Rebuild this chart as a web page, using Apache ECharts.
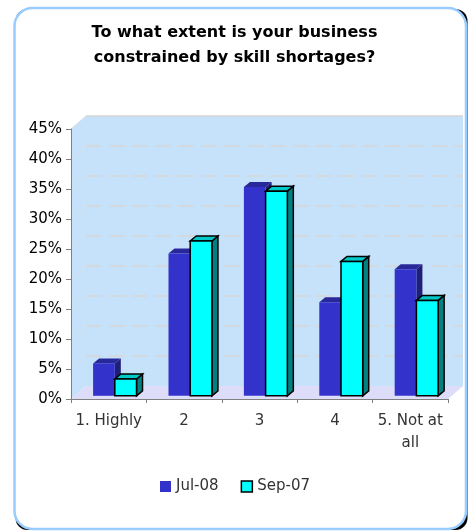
<!DOCTYPE html>
<html>
<head>
<meta charset="utf-8">
<script src="https://cdn.jsdelivr.net/npm/echarts@6/dist/echarts.min.js"></script>
<style>
  html, body { margin: 0; padding: 0; background: #ffffff; }
  #chart { width: 469px; height: 531px; }
</style>
</head>
<body>
<div id="chart"></div>
<script>
// Survey answers: share of businesses by how much skill shortages constrain them
const categories = ['1. Highly', '2', '3', '4', '5. Not at\nall'];
const jul08 = [5.4, 23.7, 34.8, 15.6, 21.1];
const sep07 = [2.8, 25.8, 34.1, 22.4, 15.9];
const seriesNames = ['Jul-08', 'Sep-07'];
const yMin = 0, yMax = 45, yStep = 5;

const FONT = 'DejaVu Sans';
// oblique depth of the chart box and of each column
const WALL_DX = 15, WALL_DY = 13;
const BAR_DX = 6, BAR_DY = 5, BAR_LIFT = 3.2;

const chart = echarts.init(document.getElementById('chart'));

function backdrop(params, api) {
  const cs = params.coordSys;
  const x0 = cs.x, x1 = cs.x + cs.width, y0 = cs.y, y1 = cs.y + cs.height;
  const wallColor = '#C6E2FB';
  const children = [
    // back wall
    { type: 'rect', shape: { x: x0 + WALL_DX, y: y0 - WALL_DY, width: cs.width, height: cs.height },
      style: { fill: wallColor } },
    // side wall
    { type: 'polygon', shape: { points: [[x0, y1], [x0, y0], [x0 + WALL_DX, y0 - WALL_DY], [x0 + WALL_DX, y1 - WALL_DY]] },
      style: { fill: wallColor } },
    // floor
    { type: 'polygon', shape: { points: [[x0, y1], [x1, y1], [x1 + WALL_DX, y1 - WALL_DY], [x0 + WALL_DX, y1 - WALL_DY]] },
      style: { fill: '#DDDDF9' } }
  ];
  for (let v = yMin + yStep; v <= yMax; v += yStep) {
    const y = api.coord([0, v])[1];
    children.push({ type: 'line',
      shape: { x1: x0 + WALL_DX, y1: y - WALL_DY, x2: x1 + WALL_DX, y2: y - WALL_DY },
      style: { stroke: '#D6D6D6', lineWidth: 1.3, lineDash: v === yMax ? null : [16, 7] } });
    children.push({ type: 'line',
      shape: { x1: x0, y1: y, x2: x0 + WALL_DX, y2: y - WALL_DY },
      style: { stroke: '#DADFE6', lineWidth: 1 } });
  }
  return { type: 'group', children };
}

function makeBar(front, top, side, outline, slot) {
  return function (params, api) {
    const i = api.value(0), v = api.value(1);
    const base = api.coord([i, 0]);
    const head = api.coord([i, v]);
    const bw = api.size([1, 0])[0];
    const w = 0.288 * bw;
    const L = base[0] - 0.207 * bw + slot * w;
    const by = base[1] - BAR_LIFT, ty = head[1] - BAR_LIFT;
    const stroke = outline ? { stroke: '#000000', lineWidth: 1.5, lineJoin: 'miter' } : {};
    return {
      type: 'group',
      children: [
        { type: 'polygon',
          shape: { points: [[L + w, ty], [L + w + BAR_DX, ty - BAR_DY], [L + w + BAR_DX, by - BAR_DY], [L + w, by]] },
          style: Object.assign({ fill: side }, stroke) },
        { type: 'polygon',
          shape: { points: [[L, ty], [L + BAR_DX, ty - BAR_DY], [L + w + BAR_DX, ty - BAR_DY], [L + w, ty]] },
          style: Object.assign({ fill: top }, stroke) },
        { type: 'rect', shape: { x: L, y: ty, width: w, height: by - ty },
          style: Object.assign({ fill: front }, stroke) }
      ]
    };
  };
}

chart.setOption({
  animation: false,
  backgroundColor: 'transparent',
  graphic: [
    { type: 'rect', z: -10, shape: { x: 15.5, y: 9, width: 452, height: 521, r: 12 },
      style: { fill: '#000000' } },
    { type: 'rect', z: -9, shape: { x: 14.5, y: 8, width: 451.5, height: 521, r: 18 },
      style: { fill: '#FFFFFF', stroke: '#99CCFF', lineWidth: 2.5 } }
  ],
  title: {
    text: 'To what extent is your business\nconstrained by skill shortages?',
    left: 'center',
    top: 20,
    padding: [0, 0, 0, 12],
    textStyle: { fontFamily: FONT, fontSize: 16, fontWeight: 'bold', color: '#000000', lineHeight: 25 }
  },
  legend: {
    data: [
      { name: seriesNames[0], itemStyle: { color: '#3333CC', borderWidth: 0 } },
      { name: seriesNames[1], itemStyle: { color: '#00FFFF', borderColor: '#000000', borderWidth: 1.5 } }
    ],
    left: 155,
    top: 474,
    icon: 'rect',
    itemWidth: 11,
    itemHeight: 11,
    itemGap: 22,
    textStyle: { fontFamily: FONT, fontSize: 15, color: '#333333' }
  },
  grid: { left: 71, right: 21, top: 129, bottom: 132, containLabel: false },
  xAxis: {
    type: 'category',
    data: categories,
    z: 10,
    axisLine: { lineStyle: { color: '#808080', width: 1 } },
    axisTick: { show: true, length: 4, lineStyle: { color: '#808080' } },
    axisLabel: { fontFamily: FONT, fontSize: 15, color: '#333333', margin: 11, lineHeight: 22, interval: 0 },
    splitLine: { show: false }
  },
  yAxis: {
    type: 'value',
    min: yMin, max: yMax, interval: yStep,
    z: 10,
    axisLine: { show: true, lineStyle: { color: '#808080', width: 1 } },
    axisTick: { show: true, length: 5, lineStyle: { color: '#808080' } },
    axisLabel: { fontFamily: FONT, fontSize: 15, color: '#000000', margin: 9, formatter: '{value}%' },
    splitLine: { show: false }
  },
  series: [
    { type: 'custom', name: 'backdrop', z: 0, silent: true, renderItem: backdrop, data: [[0, 0]] },
    { type: 'custom', name: seriesNames[0], z: 2, itemStyle: { color: '#3333CC' },
      renderItem: makeBar('#3333CC', '#28289A', '#1F1F78', false, 0),
      data: jul08.map((v, i) => [i, v]) },
    { type: 'custom', name: seriesNames[1], z: 3, itemStyle: { color: '#00FFFF' },
      renderItem: makeBar('#00FFFF', '#00C8C8', '#008080', true, 1),
      data: sep07.map((v, i) => [i, v]) }
  ]
});
</script>
</body>
</html>
